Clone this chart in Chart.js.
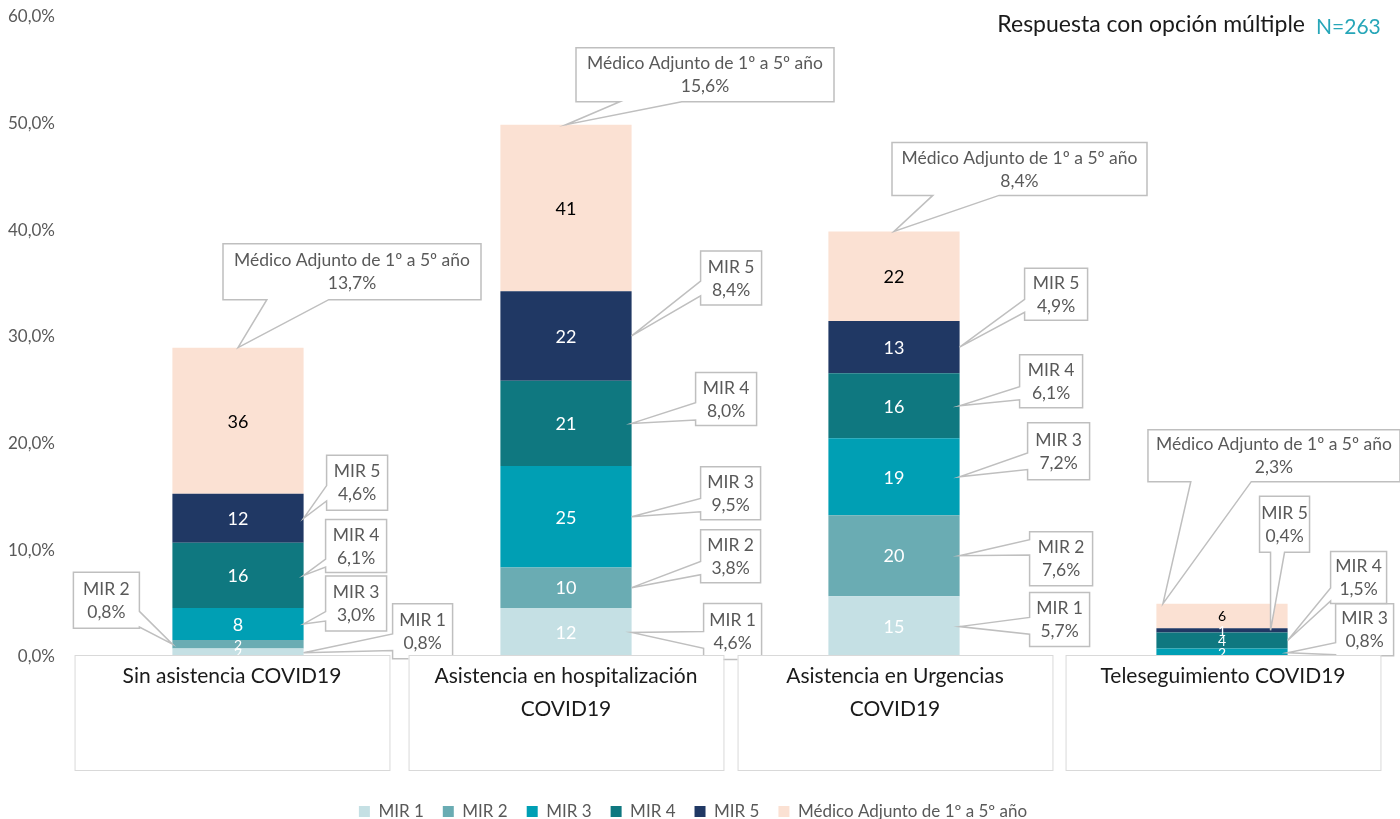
<!DOCTYPE html>
<html>
<head>
<meta charset="utf-8">
<script src="https://cdn.jsdelivr.net/npm/chart.js@4.4.0/dist/chart.umd.min.js"></script>
<style>
html, body { margin: 0; padding: 0; background: #fff; }
</style>
</head>
<body>
<canvas id="chart" width="1400" height="819"></canvas>
<script>
// Stacked bars: share of residents / junior doctors per COVID19 activity (N=263)

var categories = [
  ["Sin asistencia COVID19"],
  ["Asistencia en hospitalización", "COVID19"],
  ["Asistencia en Urgencias", "COVID19"],
  ["Teleseguimiento COVID19"]
];
var seriesNames = ["MIR 1", "MIR 2", "MIR 3", "MIR 4", "MIR 5", "Médico Adjunto de 1º a 5º año"];

// percentages (bar heights)
var mir1Pct = [0.8, 4.6, 5.7, 0];
var mir2Pct = [0.8, 3.8, 7.6, 0];
var mir3Pct = [3.0, 9.5, 7.2, 0.8];
var mir4Pct = [6.1, 8.0, 6.1, 1.5];
var mir5Pct = [4.6, 8.4, 4.9, 0.4];
var adjuntoPct = [13.7, 15.6, 8.4, 2.3];

// counts shown inside the bars
var mir1N = [2, 12, 15, 0];
var mir2N = [2, 10, 20, 0];
var mir3N = [8, 25, 19, 2];
var mir4N = [16, 21, 16, 4];
var mir5N = [12, 22, 13, 1];
var adjuntoN = [36, 41, 22, 6];

var titleText = "Respuesta con opción múltiple";
var nText = "N=263";

var yMin = 0, yMax = 60, yStep = 10;

// --- styles ---
var FONT = "Lato, 'Open Sans', sans-serif";
var colors = ["#c5e0e4", "#6aacb3", "#009fb4", "#0f7880", "#203864", "#fbe1d3"];
var countColors = ["#ffffff", "#ffffff", "#ffffff", "#ffffff", "#ffffff", "#000000"];
var catBoxShift = [-6, 0, 1, 1];

// callout boxes: [dx, dy, w, h, side, f0, f1, anchorX, anchorY] relative to the tip
// anchorX: -0.5 left edge .. 0.5 right edge of bar, anchorY: 0 top .. 1 bottom of segment
var callouts = [
  [
    [89, -49, 60, 55, "left", 0.55, 0.85, 0.5, 0.5],
    [-99, -72, 66, 56, "right", 0.7, 0.98, -0.5, 0.5],
    [22, -48, 61, 55, "left", 0.65, 0.82, 0.5, 0.5],
    [22, -56, 61, 53, "left", 0.75, 0.9, 0.5, 0.5],
    [23, -63, 61, 55, "left", 0.55, 0.83, 0.5, 0.5],
    [-15, -104, 258, 56, "bottom", 0.17, 0.41, 0, 0]
  ],
  [
    [72, -29, 58, 56, "left", 0.5, 0.8, 0.5, 0.5],
    [69, -58, 60, 53, "left", 0.6, 0.85, 0.5, 0.5],
    [69, -50, 60, 53, "left", 0.6, 0.85, 0.5, 0.5],
    [64, -51, 61, 53, "left", 0.57, 0.9, 0.5, 0.5],
    [69, -85, 61, 54, "left", 0.56, 0.83, 0.5, 0.5],
    [10, -77, 258, 54, "bottom", 0.17, 0.41, 0, 0]
  ],
  [
    [70, -34, 60, 54, "left", 0.46, 0.77, 0.5, 0.5],
    [70, -24, 63, 54, "left", 0.15, 0.43, 0.5, 0.5],
    [68, -54, 62, 57, "left", 0.53, 0.82, 0.5, 0.5],
    [60, -51, 63, 53, "left", 0.6, 0.85, 0.5, 0.5],
    [65, -79, 63, 52, "left", 0.6, 0.85, 0.5, 0.5],
    [-2, -89, 255, 53, "bottom", 0.16, 0.42, 0, 0]
  ],
  [
    null,
    null,
    [48, -49, 58, 52, "left", 0.75, 0.98, 0.5, 0.5],
    [43, -89, 56, 52, "left", 0.7, 0.95, 0.5, 0.5],
    [-11, -134, 50, 56, "bottom", 0.22, 0.5, 0.37, 0.5],
    [-15, -174, 252, 52, "bottom", 0.17, 0.41, -0.45, 0]
  ]
];

function fmtPct(v) {
  return v.toFixed(1).replace(".", ",") + "%";
}

function calloutPath(ctx, bx, by, w, h, side, f0, f1, tx, ty) {
  ctx.beginPath();
  ctx.moveTo(bx, by);
  ctx.lineTo(bx + w, by);
  if (side === "right") {
    ctx.lineTo(bx + w, by + h * f0);
    ctx.lineTo(tx, ty);
    ctx.lineTo(bx + w, by + h * f1);
  }
  ctx.lineTo(bx + w, by + h);
  if (side === "bottom") {
    ctx.lineTo(bx + w * f1, by + h);
    ctx.lineTo(tx, ty);
    ctx.lineTo(bx + w * f0, by + h);
  }
  ctx.lineTo(bx, by + h);
  if (side === "left") {
    ctx.lineTo(bx, by + h * f1);
    ctx.lineTo(tx, ty);
    ctx.lineTo(bx, by + h * f0);
  }
  ctx.closePath();
}

var pctSeries = [mir1Pct, mir2Pct, mir3Pct, mir4Pct, mir5Pct, adjuntoPct];
var countSeries = [mir1N, mir2N, mir3N, mir4N, mir5N, adjuntoN];

var datasets = seriesNames.map(function(name, i) {
  return {
    label: name,
    data: pctSeries[i],
    counts: countSeries[i],
    backgroundColor: colors[i],
    borderWidth: 0,
    barPercentage: 0.4,
    categoryPercentage: 1.0
  };
});

// --- plugin: counts, callouts, category boxes, title ---
var decorations = {
  id: "decorations",
  afterDatasetsDraw: function(chart) {
    var ctx = chart.ctx;
    var area = chart.chartArea;
    var xScale = chart.scales.x;

    // counts inside segments
    ctx.save();
    ctx.textAlign = "center";
    ctx.textBaseline = "middle";
    chart.data.datasets.forEach(function(ds, di) {
      var meta = chart.getDatasetMeta(di);
      meta.data.forEach(function(el, i) {
        var n = ds.counts[i];
        if (!n) return;
        var p = el.getProps(["x", "y", "base"], true);
        var h = p.base - p.y;
        var size = h >= 30 ? 18 : 14;
        ctx.font = size + "px " + FONT;
        ctx.fillStyle = countColors[di];
        ctx.fillText(String(n), p.x, (p.y + p.base) / 2 + 1);
      });
    });
    ctx.restore();

    // callouts
    ctx.save();
    chart.data.datasets.forEach(function(ds, di) {
      var meta = chart.getDatasetMeta(di);
      meta.data.forEach(function(el, i) {
        var c = callouts[i][di];
        if (!c || !ds.data[i]) return;
        var p = el.getProps(["x", "y", "base", "width"], true);
        var tx = p.x + c[7] * p.width;
        var ty = p.y + c[8] * (p.base - p.y);
        var bx = tx + c[0], by = ty + c[1], w = c[2], h = c[3];
        calloutPath(ctx, bx, by, w, h, c[4], c[5], c[6], tx, ty);
        ctx.fillStyle = "#ffffff";
        ctx.fill();
        ctx.strokeStyle = "#bfbfbf";
        ctx.lineWidth = 1.5;
        ctx.stroke();
        ctx.fillStyle = "#595959";
        ctx.font = "17.5px " + FONT;
        ctx.textAlign = "center";
        ctx.textBaseline = "middle";
        ctx.fillText(ds.label, bx + w / 2, by + h / 2 - 11);
        ctx.fillText(fmtPct(ds.data[i]), bx + w / 2, by + h / 2 + 12);
      });
    });
    ctx.restore();

    // category boxes under the axis
    ctx.save();
    var catW = xScale.width / categories.length;
    categories.forEach(function(lines, i) {
      var cx = xScale.getPixelForValue(i) + catBoxShift[i];
      var w = catW * 0.96;
      var top = area.bottom - 2;
      ctx.fillStyle = "#ffffff";
      ctx.fillRect(cx - w / 2, top, w, 115);
      ctx.strokeStyle = "#d9d9d9";
      ctx.lineWidth = 1;
      ctx.strokeRect(cx - w / 2 + 0.5, top + 0.5, w, 115);
      ctx.fillStyle = "#1a1a1a";
      ctx.font = "21px " + FONT;
      ctx.textAlign = "center";
      ctx.textBaseline = "middle";
      lines.forEach(function(t, k) {
        ctx.fillText(t, cx, top + 21 + k * 33);
      });
    });
    ctx.restore();
  },
  afterDraw: function(chart) {
    var ctx = chart.ctx;
    ctx.save();
    ctx.textBaseline = "middle";
    ctx.font = "23px " + FONT;
    ctx.fillStyle = "#1a1a1a";
    ctx.textAlign = "right";
    ctx.fillText(titleText, 1305, 25);
    ctx.font = "21px " + FONT;
    ctx.fillStyle = "#27a6b8";
    ctx.textAlign = "left";
    ctx.fillText(nText, 1316, 27);
    ctx.restore();
  }
};

new Chart(document.getElementById("chart"), {
  type: "bar",
  data: { labels: categories, datasets: datasets },
  options: {
    responsive: false,
    animation: false,
    layout: { padding: { top: 17, right: 14, bottom: -11, left: 0 } },
    plugins: {
      legend: {
        position: "bottom",
        labels: {
          boxWidth: 11,
          boxHeight: 11,
          padding: 19,
          color: "#595959",
          font: { family: FONT, size: 17 }
        }
      },
      tooltip: { enabled: false }
    },
    scales: {
      x: {
        stacked: true,
        grid: { display: false, drawTicks: false },
        border: { display: false },
        ticks: { display: false },
        afterFit: function(s) { s.height = 127; }
      },
      y: {
        stacked: true,
        min: yMin,
        max: yMax,
        grid: { display: false, drawTicks: false },
        border: { display: false },
        ticks: {
          stepSize: yStep,
          padding: 19,
          color: "#595959",
          font: { family: FONT, size: 17 },
          callback: function(v) { return fmtPct(v); }
        },
        afterFit: function(s) {
          s.width = 74;
          s.paddingTop = 0;
          s.paddingBottom = 0;
        }
      }
    }
  },
  plugins: [decorations]
});
</script>
</body>
</html>
